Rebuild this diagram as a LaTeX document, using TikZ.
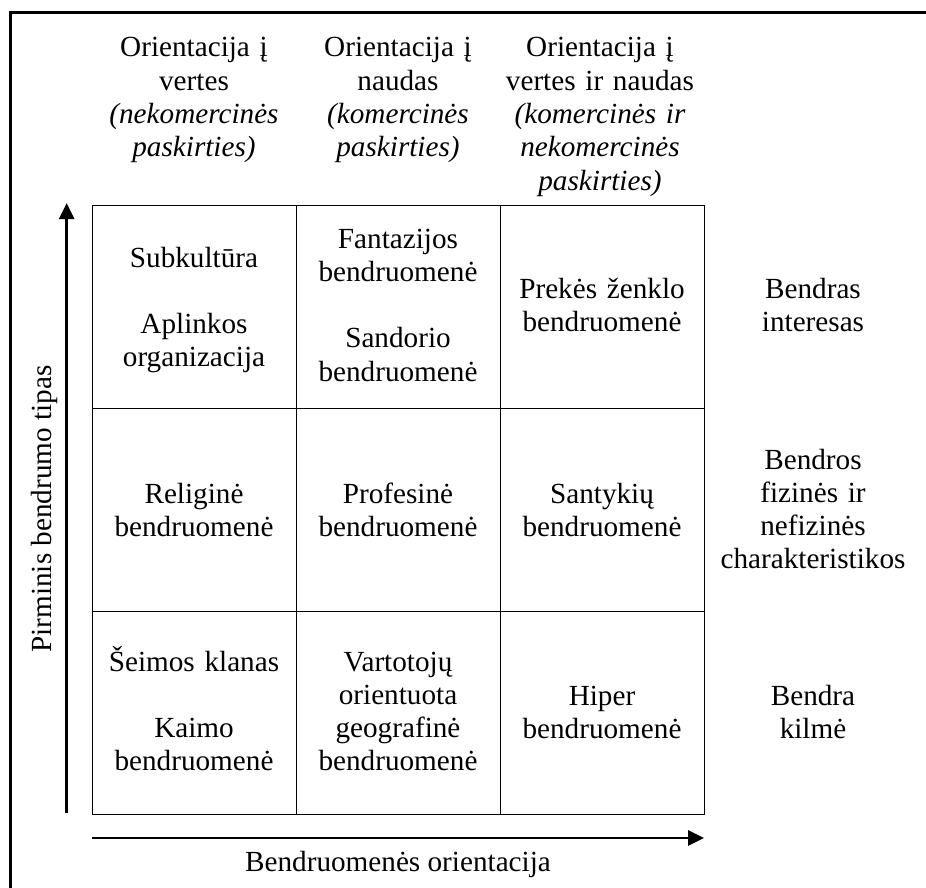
\documentclass[tikz,border=0pt]{standalone}
\usepackage{fontspec}
\setmainfont{Liberation Serif}
\usetikzlibrary{arrows.meta}
\begin{document}
\begin{tikzpicture}[x=1pt,y=-1pt,
  txt/.style={font=\fontsize{29.2}{33.3}\selectfont, text width=200pt,
    align=center, anchor=base, inner sep=0pt},
  lbl/.style={font=\fontsize{29.2}{33.3}\selectfont, inner sep=0pt, anchor=base},
  cellbox/.style={draw, line width=1.1pt, minimum width=204pt,
    minimum height=203pt, inner sep=0pt, anchor=north west},
  axis/.style={line width=2.8pt, -{Triangle[length=16pt,width=15pt]}},
  frame/.style={line width=3pt}]
\useasboundingbox (0,0) rectangle (926,888);

% outer frame (only its top and left sides fall inside the page)
\draw[frame] (10,900) -- (10,12.5) -- (940,12.5);

% column headings
\node[txt] (h1) at (194,57) {Orientacija į\\vertes\\\itshape (nekomercinės\\\itshape paskirties)};
\node[txt] (h2) at (398,57) {Orientacija į\\naudas\\\itshape (komercinės\\\itshape paskirties)};
\node[txt] (h3) at (600,57) {Orientacija į\\vertes ir naudas\\\itshape (komercinės ir\\\itshape nekomercinės\\\itshape paskirties)};

% the 3x3 grid
\node[cellbox] (c11) at (92,205) {};
\node[cellbox] (c12) at (296,205) {};
\node[cellbox] (c13) at (500,205) {};
\node[cellbox] (c21) at (92,408) {};
\node[cellbox] (c22) at (296,408) {};
\node[cellbox] (c23) at (500,408) {};
\node[cellbox] (c31) at (92,611) {};
\node[cellbox] (c32) at (296,611) {};
\node[cellbox] (c33) at (500,611) {};

% cell texts
\node[txt] (t11) at (194,267) {Subkultūra\\[33.3pt]Aplinkos\\organizacija};
\node[txt] (t12) at (398,248) {Fantazijos\\bendruomenė\\[33.3pt]Sandorio\\bendruomenė};
\node[txt] (t13) at (602,298) {Prekės ženklo\\bendruomenė};
\node[txt] (t21) at (194,503) {Religinė\\bendruomenė};
\node[txt] (t22) at (398,503) {Profesinė\\bendruomenė};
\node[txt] (t23) at (602,503) {Santykių\\bendruomenė};
\node[txt] (t31) at (194,671) {Šeimos klanas\\[33.3pt]Kaimo\\bendruomenė};
\node[txt] (t32) at (398,671) {Vartotojų\\orientuota\\geografinė\\bendruomenė};
\node[txt] (t33) at (602,705) {Hiper\\bendruomenė};

% row labels on the right
\node[txt] (r1) at (813,298) {Bendras\\interesas};
\node[txt] (r2) at (813,469) {Bendros\\fizinės ir\\nefizinės\\charakteristikos};
\node[txt] (r3) at (813,705) {Bendra\\kilmė};

% axes
\coordinate (vbot) at (66.7,813);
\coordinate (vtop) at (66.7,203);
\draw[axis] (vbot) -- (vtop);
\coordinate (hleft) at (92,838);
\coordinate (hright) at (704,838);
\draw[axis] (hleft) -- (hright);

% axis titles
\node[lbl, rotate=90] (ylab) at (51,509) {Pirminis bendrumo tipas};
\node[lbl] (xlab) at (398,871) {Bendruomenės orientacija};
\end{tikzpicture}
\end{document}
